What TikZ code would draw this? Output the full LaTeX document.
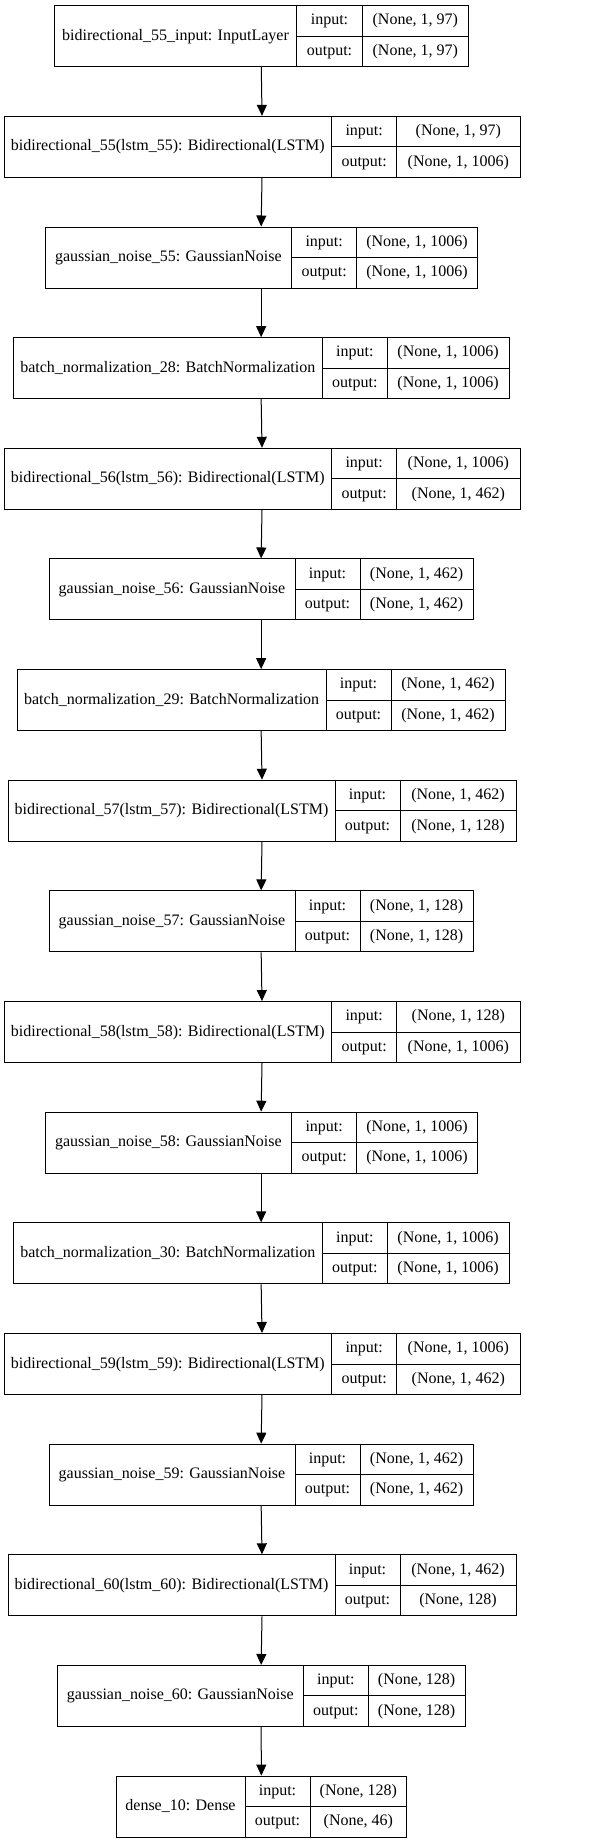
\documentclass[tikz,border=0pt]{standalone}
\usepackage{fontspec}
\setmainfont{Liberation Serif}
\usetikzlibrary{arrows.meta}

\tikzset{
  layerbox/.style={draw, line width=1pt, inner sep=0pt, minimum height=61pt},
  celltext/.style={inner sep=0pt, text height=11.5pt, text depth=3.5pt,
    font=\fontsize{16}{19}\selectfont},
  flow/.style={-{Triangle[length=11pt,width=10pt]}, line width=1pt},
}

% #1 name, #2 row, #3 left, #4 first divider, #5 second divider, #6 right,
% #7 layer text, #8 input shape, #9 output shape
\newcommand{\kerasnode}[9]{%
  \pgfmathsetmacro{\ytop}{5.7+110.65*#2}
  \node[layerbox, minimum width={(#6-#3)*1pt}] (#1) at ({(#3+#6)/2},\ytop+30.5) {};
  \draw[line width=1pt] (#4,\ytop) -- (#4,\ytop+61);
  \draw[line width=1pt] (#5,\ytop) -- (#5,\ytop+61);
  \draw[line width=1pt] (#4,\ytop+30.5) -- (#6,\ytop+30.5);
  \node[celltext] (#1-name) at ({(#3+#4)/2},\ytop+30.5) {#7};
  \node[celltext] (#1-inlbl) at ({(#4+#5)/2},\ytop+15.25) {input:};
  \node[celltext] (#1-outlbl) at ({(#4+#5)/2},\ytop+45.75) {output:};
  \node[celltext] (#1-in) at ({(#5+#6)/2},\ytop+15.25) {#8};
  \node[celltext] (#1-out) at ({(#5+#6)/2},\ytop+45.75) {#9};
}

\begin{document}
\begin{tikzpicture}[x=1pt, y=-1pt]
  \useasboundingbox (0,0) rectangle (600,1844);

  % Layers, top to bottom
  \kerasnode{inp}{0}{54.3}{296.7}{362.3}{468.3}{bidirectional\_55\_input: InputLayer}{(None, 1, 97)}{(None, 1, 97)}
  \kerasnode{bidir55}{1}{4}{331.7}{396.7}{520}{bidirectional\_55(lstm\_55): Bidirectional(LSTM)}{(None, 1, 97)}{(None, 1, 1006)}
  \kerasnode{noise55}{2}{45}{291.7}{356.7}{477.3}{gaussian\_noise\_55: GaussianNoise}{(None, 1, 1006)}{(None, 1, 1006)}
  \kerasnode{bnorm28}{3}{13.3}{322.3}{387.3}{509}{batch\_normalization\_28: BatchNormalization}{(None, 1, 1006)}{(None, 1, 1006)}
  \kerasnode{bidir56}{4}{4}{331.7}{396.7}{520}{bidirectional\_56(lstm\_56): Bidirectional(LSTM)}{(None, 1, 1006)}{(None, 1, 462)}
  \kerasnode{noise56}{5}{49}{295}{360}{473.3}{gaussian\_noise\_56: GaussianNoise}{(None, 1, 462)}{(None, 1, 462)}
  \kerasnode{bnorm29}{6}{17.3}{326}{391}{505}{batch\_normalization\_29: BatchNormalization}{(None, 1, 462)}{(None, 1, 462)}
  \kerasnode{bidir57}{7}{8}{335}{400}{516}{bidirectional\_57(lstm\_57): Bidirectional(LSTM)}{(None, 1, 462)}{(None, 1, 128)}
  \kerasnode{noise57}{8}{49}{295}{360}{473.3}{gaussian\_noise\_57: GaussianNoise}{(None, 1, 128)}{(None, 1, 128)}
  \kerasnode{bidir58}{9}{4}{331.7}{396.7}{520}{bidirectional\_58(lstm\_58): Bidirectional(LSTM)}{(None, 1, 128)}{(None, 1, 1006)}
  \kerasnode{noise58}{10}{45}{291.7}{356.7}{477.3}{gaussian\_noise\_58: GaussianNoise}{(None, 1, 1006)}{(None, 1, 1006)}
  \kerasnode{bnorm30}{11}{13.3}{322.3}{387.3}{509}{batch\_normalization\_30: BatchNormalization}{(None, 1, 1006)}{(None, 1, 1006)}
  \kerasnode{bidir59}{12}{4}{331.7}{396.7}{520}{bidirectional\_59(lstm\_59): Bidirectional(LSTM)}{(None, 1, 1006)}{(None, 1, 462)}
  \kerasnode{noise59}{13}{49}{295}{360}{473.3}{gaussian\_noise\_59: GaussianNoise}{(None, 1, 462)}{(None, 1, 462)}
  \kerasnode{bidir60}{14}{8}{335}{400}{516}{bidirectional\_60(lstm\_60): Bidirectional(LSTM)}{(None, 1, 462)}{(None, 128)}
  \kerasnode{noise60}{15}{57.3}{303.3}{368.3}{465}{gaussian\_noise\_60: GaussianNoise}{(None, 128)}{(None, 128)}
  \kerasnode{dense10}{16}{116}{245}{310}{406.7}{dense\_10: Dense}{(None, 128)}{(None, 46)}

  % Connections
  \draw[flow] (inp.south) -- (bidir55.north);
  \draw[flow] (bidir55.south) -- (noise55.north);
  \draw[flow] (noise55.south) -- (bnorm28.north);
  \draw[flow] (bnorm28.south) -- (bidir56.north);
  \draw[flow] (bidir56.south) -- (noise56.north);
  \draw[flow] (noise56.south) -- (bnorm29.north);
  \draw[flow] (bnorm29.south) -- (bidir57.north);
  \draw[flow] (bidir57.south) -- (noise57.north);
  \draw[flow] (noise57.south) -- (bidir58.north);
  \draw[flow] (bidir58.south) -- (noise58.north);
  \draw[flow] (noise58.south) -- (bnorm30.north);
  \draw[flow] (bnorm30.south) -- (bidir59.north);
  \draw[flow] (bidir59.south) -- (noise59.north);
  \draw[flow] (noise59.south) -- (bidir60.north);
  \draw[flow] (bidir60.south) -- (noise60.north);
  \draw[flow] (noise60.south) -- (dense10.north);
\end{tikzpicture}
\end{document}
